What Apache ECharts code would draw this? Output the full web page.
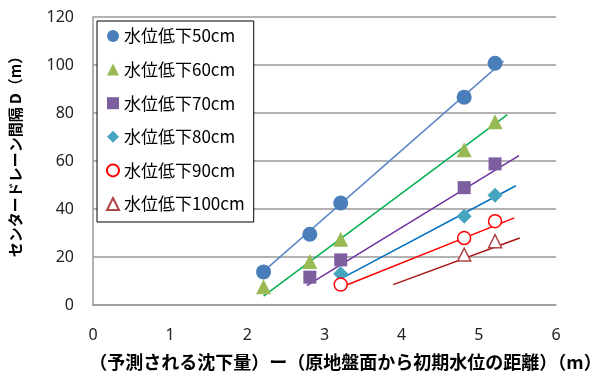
<!DOCTYPE html>
<html>
<head>
<meta charset="utf-8">
<script src="https://cdn.jsdelivr.net/npm/echarts@6/dist/echarts.min.js"></script>
<style>
  html, body { margin: 0; padding: 0; background: #fff; }
  #chart { width: 606px; height: 376px; }
</style>
</head>
<body>
<div id="chart"></div>
<script>
// Horizontal positions of the measured cases (m)
const xPos = [2.21, 2.81, 3.21, 4.81, 5.21];

// Drain spacing D (m) for each water-level drawdown
const names = ['水位低下50cm', '水位低下60cm', '水位低下70cm', '水位低下80cm', '水位低下90cm', '水位低下100cm'];
const d50  = [13.8, 29.5, 42.5, 86.6, 100.7];
const d60  = [7.6, 18.1, 27.4, 64.7, 76.4];
const d70  = [null, 11.6, 18.8, 48.9, 58.8];
const d80  = [null, null, 13.0, 37.0, 45.7];
const d90  = [null, null, 8.5, 27.9, 34.9];
const d100 = [null, null, null, 21.0, 26.6];

// Approximate straight lines: [x start, y start, x end, y end]
const fit50  = [2.21, 14.0, 5.32, 101.6];
const fit60  = [2.21, 3.7, 5.37, 79.3];
const fit70  = [2.77, 8.1, 5.52, 62.2];
const fit80  = [3.19, 10.6, 5.48, 49.7];
const fit90  = [3.19, 7.1, 5.46, 36.3];
const fit100 = [3.89, 8.5, 5.53, 27.9];

// Axis ticks
const xTicks = [0, 1, 2, 3, 4, 5, 6];
const yTicks = [0, 20, 40, 60, 80, 100, 120];

const values = [d50, d60, d70, d80, d90, d100];
const fits = [fit50, fit60, fit70, fit80, fit90, fit100];

const markerStyles = [
  { symbol: 'circle',   size: 15, itemStyle: { color: '#4A7EBB', opacity: 1 } },
  { symbol: 'triangle', size: 15, itemStyle: { color: '#98B954', opacity: 1 } },
  { symbol: 'rect',     size: 13, itemStyle: { color: '#7D5FA0', opacity: 1 } },
  { symbol: 'diamond',  size: 15, itemStyle: { color: '#46A5C0', opacity: 1 } },
  { symbol: 'circle',   size: 13, itemStyle: { color: '#fff', borderColor: '#FF0000', borderWidth: 1.5, opacity: 1 } },
  { symbol: 'triangle', size: 13, itemStyle: { color: '#fff', borderColor: '#B04545', borderWidth: 1.5, opacity: 1 } }
];
const lineColors = ['#5B87C5', '#00B050', '#7030A0', '#0070C0', '#FF0000', '#A81414'];

const series = [];
values.forEach(function (vals, i) {
  const pts = [];
  vals.forEach(function (v, j) { if (v !== null) pts.push([xPos[j], v]); });
  series.push({
    name: names[i],
    type: 'scatter',
    data: pts,
    symbol: markerStyles[i].symbol,
    symbolSize: markerStyles[i].size,
    itemStyle: markerStyles[i].itemStyle,
    z: 3
  });
});
fits.forEach(function (f, i) {
  series.push({
    type: 'line',
    data: [[f[0], f[1]], [f[2], f[3]]],
    showSymbol: false,
    silent: true,
    lineStyle: { color: lineColors[i], width: 1.5 },
    z: 2
  });
});

const chart = echarts.init(document.getElementById('chart'));
chart.setOption({
  animation: false,
  backgroundColor: '#fff',
  textStyle: { fontFamily: 'Noto Sans CJK JP' },
  grid: { left: 88, right: 50, top: 17, bottom: 67 },
  legend: {
    orient: 'vertical',
    left: 97,
    top: 21,
    data: names,
    backgroundColor: '#fff',
    borderColor: '#000',
    borderWidth: 1,
    padding: [5, 9, 8, 9],
    itemWidth: 12,
    itemHeight: 12,
    itemGap: 13.6,
    textStyle: { fontSize: 17, lineHeight: 20, color: '#000', fontFamily: 'Noto Sans CJK JP' }
  },
  xAxis: {
    type: 'value',
    min: xTicks[0],
    max: xTicks[xTicks.length - 1],
    interval: 1,
    name: '（予測される沈下量）ー（原地盤面から初期水位の距離）（m）',
    nameLocation: 'middle',
    nameGap: 48,
    nameTextStyle: { fontSize: 18, fontWeight: 'bold', color: '#000', fontFamily: 'Noto Sans CJK JP', padding: [0, 0, 0, 42] },
    axisLine: { lineStyle: { color: '#999', width: 1.5 } },
    axisTick: { show: false },
    splitLine: { show: false },
    axisLabel: { fontSize: 16, color: '#222', margin: 22, fontFamily: 'Noto Sans' }
  },
  yAxis: {
    type: 'value',
    min: yTicks[0],
    max: yTicks[yTicks.length - 1],
    interval: 20,
    name: 'センタードレーン間隔 D（m）',
    nameLocation: 'middle',
    nameGap: 70,
    nameTextStyle: { fontSize: 15, fontWeight: 'bold', color: '#000', fontFamily: 'Noto Sans CJK JP', padding: [0, 0, 0, 16] },
    axisLine: { show: true, lineStyle: { color: '#999', width: 1.5 } },
    axisTick: { show: false },
    splitLine: { lineStyle: { color: '#999', width: 1.5 } },
    axisLabel: { fontSize: 16, color: '#222', margin: 19, fontFamily: 'Noto Sans' }
  },
  series: series
});
</script>
</body>
</html>
